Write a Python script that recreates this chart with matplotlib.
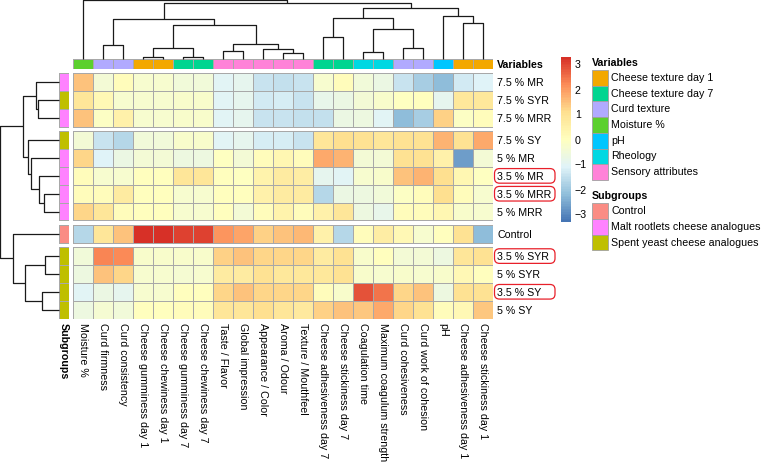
import numpy as np
import matplotlib
matplotlib.use("Agg")
import matplotlib.pyplot as plt
from matplotlib.colors import LinearSegmentedColormap, ListedColormap, Normalize
from matplotlib.patches import Rectangle, FancyBboxPatch
from matplotlib.cm import ScalarMappable

plt.rcParams['font.family'] = ['Liberation Sans', 'DejaVu Sans']

# --- Daten -----------------------------------------------------------------
col_labels = ["Moisture %", "Curd firmness", "Curd consistency",
              "Cheese gumminess day 1", "Cheese chewiness day 1",
              "Cheese gumminess day 7", "Cheese chewiness day 7",
              "Taste / Flavor", "Global impression", "Appearance / Color",
              "Aroma / Odour", "Texture / Mouthfeel",
              "Cheese adhesiveness day 7", "Cheese stickiness day 7",
              "Coagulation time", "Maximum coagulum strength",
              "Curd cohesiveness", "Curd work of cohesion", "pH",
              "Cheese adhesiveness day 1", "Cheese stickiness day 1"]
col_variable = ["Moisture %", "Curd texture", "Curd texture",
                "Cheese texture day 1", "Cheese texture day 1",
                "Cheese texture day 7", "Cheese texture day 7",
                "Sensory attributes", "Sensory attributes", "Sensory attributes",
                "Sensory attributes", "Sensory attributes",
                "Cheese texture day 7", "Cheese texture day 7",
                "Rheology", "Rheology", "Curd texture", "Curd texture", "pH",
                "Cheese texture day 1", "Cheese texture day 1"]

row_labels = ["7.5 % MR", "7.5 % SYR", "7.5 % MRR", "7.5 % SY", "5 % MR",
              "3.5 % MR", "3.5 % MRR", "5 % MRR", "Control",
              "3.5 % SYR", "5 % SYR", "3.5 % SY", "5 % SY"]
row_subgroup = ["Malt rootlets cheese analogues", "Spent yeast cheese analogues",
                "Malt rootlets cheese analogues", "Spent yeast cheese analogues",
                "Malt rootlets cheese analogues", "Malt rootlets cheese analogues",
                "Malt rootlets cheese analogues", "Malt rootlets cheese analogues",
                "Control", "Spent yeast cheese analogues",
                "Spent yeast cheese analogues", "Spent yeast cheese analogues",
                "Spent yeast cheese analogues"]
row_groups = [3, 5, 1, 4]
highlight = ["3.5 % MR", "3.5 % MRR", "3.5 % SYR", "3.5 % SY"]

# skalierte Werte (z-Scores) pro Zeile
mr_7_5 = [1.5, -0.4, 0.1, -0.3, -0.3, -0.5, -0.5, -1.0, -0.9, -1.4, -1.5, -1.4, -0.3, 0.1, -0.5, -0.7, -1.4, -1.9, -2.2, -1.3, -1.1]
syr_7_5 = [0.9, 0.2, -0.3, -0.3, -0.3, -0.2, -0.2, -1.0, -0.9, -1.3, -1.2, -1.4, -0.8, -0.7, -0.4, -0.2, -0.05, 0.05, -0.9, 0.8, 0.8]
mrr_7_5 = [1.5, -0.1, 0.5, -0.3, -0.3, -0.2, -0.2, -1.0, -0.9, -1.4, -1.4, -1.5, -1.5, -0.7, -0.6, -1.0, -2.2, -1.9, 1.3, -0.1, 0.1]
sy_7_5 = [-0.4, -1.4, -1.7, -0.5, -0.5, -0.25, -0.25, -1.0, -0.9, -1.2, -1.2, -1.4, 0.9, 1.1, 1.0, 0.9, 1.0, 1.0, 1.7, 1.0, 1.8]
mr_5 = [1.2, -1.1, -0.7, -0.4, -0.4, -0.6, -0.6, -0.05, -0.45, 0.1, 0.3, 0.1, 1.8, 1.7, -0.4, -0.4, 1.0, 1.0, 0.5, -2.7, -0.4]
mr_3_5 = [0.1, -0.3, -0.3, 0.05, 0.05, 0.9, 0.9, 0.05, -0.05, 0.4, 0.7, 0.6, -0.9, -1.05, -0.3, -0.2, 1.5, 1.7, 1.1, 0.3, -0.05]
mrr_3_5 = [0.1, 0.1, 0.7, 0.05, 0.05, -0.3, -0.3, 0.05, 0.05, 0.5, 0.7, 0.7, -1.7, -0.7, -0.6, -0.5, -0.1, 0.1, 1.1, 0.1, -0.3]
mrr_5 = [1.2, 0.9, 0.1, 0.05, 0.05, -0.3, -0.3, 0.05, -0.4, 0.1, 0.4, 0.1, 0.5, 0.9, -0.6, -0.8, 0.1, 0.1, 0.3, -0.2, -0.3]
control = [-1.7, 0.9, 1.5, 3.3, 3.3, 3.1, 3.1, 2.1, 1.9, 1.3, 1.5, 1.6, 0.5, -1.7, 0.1, 0.6, 0.2, -0.3, 0.05, 1.0, -2.2]
syr_3_5 = [-0.5, 2.3, 2.2, -0.2, -0.2, -0.2, -0.2, 1.3, 1.5, 1.2, 1.2, 1.2, 0.7, 1.0, -0.2, 0.05, -0.45, -0.45, -0.6, 0.9, 1.0]
syr_5 = [-0.65, 1.5, 1.2, -0.3, -0.3, -0.35, -0.3, 0.7, 0.7, 1.0, 0.85, 0.85, 0.85, 1.0, -0.2, -0.3, -0.2, -0.3, -0.2, 0.2, 0.05]
sy_3_5 = [-1.0, -0.7, -0.9, -0.3, -0.3, 0.05, 0.05, 1.2, 1.5, 1.2, 1.2, 1.2, 0.1, -0.2, 2.9, 2.5, 1.2, 1.5, -0.6, 1.0, 1.0]
sy_5 = [-0.65, -0.35, -0.5, 0.05, 0.05, 0.1, 0.1, 0.9, 0.9, 1.1, 0.9, 0.75, 1.3, 1.5, 1.4, 1.8, 1.2, 1.0, 0.1, 0.2, 1.4]

# Dendrogramme: (links, rechts, Höhe), neue Knoten bekommen fortlaufende IDs
col_merges = [(3, 4, 1.3), (5, 6, 1.3), (21, 22, 11.0), (7, 8, 7.4),
              (10, 11, 5.4), (9, 25, 9.4), (24, 26, 15.0), (23, 27, 34.0),
              (1, 2, 13.4), (29, 28, 40.0), (12, 13, 21.4), (14, 15, 7.0),
              (16, 17, 10.4), (32, 33, 30.0), (31, 34, 40.2), (19, 20, 35.4),
              (18, 36, 42.7), (35, 37, 50.4), (30, 38, 55.4), (0, 39, 58.4)]
row_merges = [(1, 2, 20.7), (0, 13, 23.0), (6, 7, 14.7), (5, 15, 20.0),
              (4, 16, 28.3), (3, 17, 30.7), (14, 18, 36.3), (9, 10, 14.0),
              (11, 12, 17.3), (20, 21, 34.0), (8, 22, 45.7), (19, 23, 58.5)]

var_names = ["Cheese texture day 1", "Cheese texture day 7", "Curd texture",
             "Moisture %", "pH", "Rheology", "Sensory attributes"]
var_colors = ["#F3A800", "#00D590", "#B1AAFF", "#5BD02E", "#00C6FF", "#00D8E2", "#FF82D8"]
sub_names = ["Control", "Malt rootlets cheese analogues", "Spent yeast cheese analogues"]
sub_colors = ["#FA8C84", "#FF82FF", "#BFBF00"]

heat = np.array([mr_7_5, syr_7_5, mrr_7_5, sy_7_5, mr_5, mr_3_5, mrr_3_5,
                 mrr_5, control, syr_3_5, syr_5, sy_3_5, sy_5])

# --- Layout ----------------------------------------------------------------
W, H = 762, 463
fig = plt.figure(figsize=(W / 100, H / 100), dpi=100)
FS = 7.7
BORDER = "#a8a8a8"

def px_axes(x0, y0, x1, y1):
    return fig.add_axes([x0 / W, 1 - y1 / H, (x1 - x0) / W, (y1 - y0) / H])

def clean(ax):
    for s in ax.spines.values():
        s.set_visible(False)
    ax.set_xticks([])
    ax.set_yticks([])

HM_X0, HM_X1 = 73, 493
ROW_H, GAP, HM_Y0 = 17.85, 4.4, 73.3
row_top = []
y = HM_Y0
for size in row_groups:
    for k in range(size):
        row_top.append(y)
        y += ROW_H
    y += GAP
HM_Y1 = y - GAP
row_top = np.array(row_top)
row_mid = row_top + ROW_H / 2
starts = np.cumsum([0] + row_groups)

cmap = LinearSegmentedColormap.from_list(
    "rdylbu", ["#4575B4", "#91BFDB", "#E0F3F8", "#FFFFBF", "#FEE090", "#FC8D59", "#D73027"], N=100)
norm = Normalize(-3.3, 3.3)
ncol = len(col_labels)

# Heatmap
ax = px_axes(HM_X0, HM_Y0, HM_X1, HM_Y1)
for g in range(len(row_groups)):
    idx = np.arange(starts[g], starts[g + 1])
    yedges = np.append(row_top[idx], row_top[idx[-1]] + ROW_H)
    ax.pcolormesh(np.arange(ncol + 1), yedges, heat[idx], cmap=cmap, norm=norm,
                  edgecolors=BORDER, linewidth=0.6)
ax.set_xlim(0, ncol)
ax.set_ylim(HM_Y1, HM_Y0)
for s in ax.spines.values():
    s.set_visible(False)
ax.set_xticks(np.arange(ncol) + 0.5)
ax.set_xticklabels(col_labels, rotation=270, fontsize=FS)
ax.yaxis.tick_right()
ax.set_yticks(row_mid)
ax.set_yticklabels(row_labels, fontsize=FS)
ax.tick_params(length=0, pad=3)

# Spalten-Annotation
ax_ca = px_axes(HM_X0, 58.7, HM_X1, 69.3)
codes = np.array([var_names.index(v) for v in col_variable])
ax_ca.pcolormesh(np.arange(ncol + 1), [0, 1], codes[None, :],
                 cmap=ListedColormap(var_colors), vmin=-0.5, vmax=len(var_names) - 0.5,
                 edgecolors=BORDER, linewidth=0.6)
ax_ca.set_xlim(0, ncol)
ax_ca.set_ylim(1, 0)
clean(ax_ca)
ax_ca.yaxis.tick_right()
ax_ca.set_yticks([0.5])
ax_ca.set_yticklabels(["Variables"], fontsize=FS, fontweight="bold")
ax_ca.tick_params(length=0, pad=3)

# Zeilen-Annotation
ax_ra = px_axes(59, HM_Y0, 69.3, HM_Y1)
rcodes = np.array([sub_names.index(s) for s in row_subgroup])
for g in range(len(row_groups)):
    idx = np.arange(starts[g], starts[g + 1])
    yedges = np.append(row_top[idx], row_top[idx[-1]] + ROW_H)
    ax_ra.pcolormesh([0, 1], yedges, rcodes[idx][:, None],
                     cmap=ListedColormap(sub_colors), vmin=-0.5, vmax=len(sub_names) - 0.5,
                     edgecolors=BORDER, linewidth=0.6)
ax_ra.set_xlim(0, 1)
ax_ra.set_ylim(HM_Y1, HM_Y0)
clean(ax_ra)
ax_ra.set_xticks([0.5])
ax_ra.set_xticklabels(["Subgroups"], rotation=270, fontsize=FS, fontweight="bold")
ax_ra.tick_params(length=0, pad=3)

# Dendrogramme
def draw_dendro(dax, merges, leaf_pos, vertical):
    pos = list(leaf_pos)
    hts = [0.0] * len(leaf_pos)
    for a, b, h in merges:
        xs = [pos[a], pos[a], pos[b], pos[b]]
        ys = [hts[a], h, h, hts[b]]
        if vertical:
            dax.plot(xs, ys, color="#1a1a1a", lw=0.9, clip_on=False, solid_capstyle="butt")
        else:
            dax.plot(ys, xs, color="#1a1a1a", lw=0.9, clip_on=False, solid_capstyle="butt")
        pos.append((pos[a] + pos[b]) / 2)
        hts.append(h)

ax_cd = px_axes(HM_X0, 0, HM_X1, 58.7)
draw_dendro(ax_cd, col_merges, np.arange(ncol) + 0.5, True)
ax_cd.set_xlim(0, ncol)
ax_cd.set_ylim(0, 58.7)
clean(ax_cd)

ax_rd = px_axes(0, HM_Y0, 59, HM_Y1)
draw_dendro(ax_rd, row_merges, row_mid, False)
ax_rd.set_xlim(59, 0)
ax_rd.set_ylim(HM_Y1, HM_Y0)
clean(ax_rd)

# Farbskala
cax = px_axes(560.7, 57, 570.7, 222)
cb = fig.colorbar(ScalarMappable(norm=norm, cmap=cmap), cax=cax, ticks=[-3, -2, -1, 0, 1, 2, 3])
cb.outline.set_visible(False)
cax.tick_params(length=0, pad=3, labelsize=FS)

# Legenden, Markierungen
ov = fig.add_axes([0, 0, 1, 1], facecolor="none")
ov.set_xlim(0, W)
ov.set_ylim(H, 0)
ov.axis("off")

SW = 15.7
ov.text(592, 62.5, "Variables", fontsize=FS, fontweight="bold", va="center", ha="left")
for i, (name, c) in enumerate(zip(var_names, var_colors)):
    y0 = 70 + i * SW
    ov.add_patch(Rectangle((592, y0), SW, SW, facecolor=c, edgecolor="#a0a0a0", lw=0.6))
    ov.text(611, y0 + SW / 2, name, fontsize=FS, va="center", ha="left")
ov.text(592, 196, "Subgroups", fontsize=FS, fontweight="bold", va="center", ha="left")
for i, (name, c) in enumerate(zip(sub_names, sub_colors)):
    y0 = 203.3 + i * SW
    ov.add_patch(Rectangle((592, y0), SW, SW, facecolor=c, edgecolor="#a0a0a0", lw=0.6))
    ov.text(611, y0 + SW / 2, name, fontsize=FS, va="center", ha="left")

for lab in highlight:
    yc = row_mid[row_labels.index(lab)]
    ov.add_patch(FancyBboxPatch((494.5, yc - 7.3), 60.5, 14.6,
                                boxstyle="round,pad=0,rounding_size=5",
                                facecolor="none", edgecolor="#E8202A", lw=0.9))

fig.savefig("out.png", dpi=100)
